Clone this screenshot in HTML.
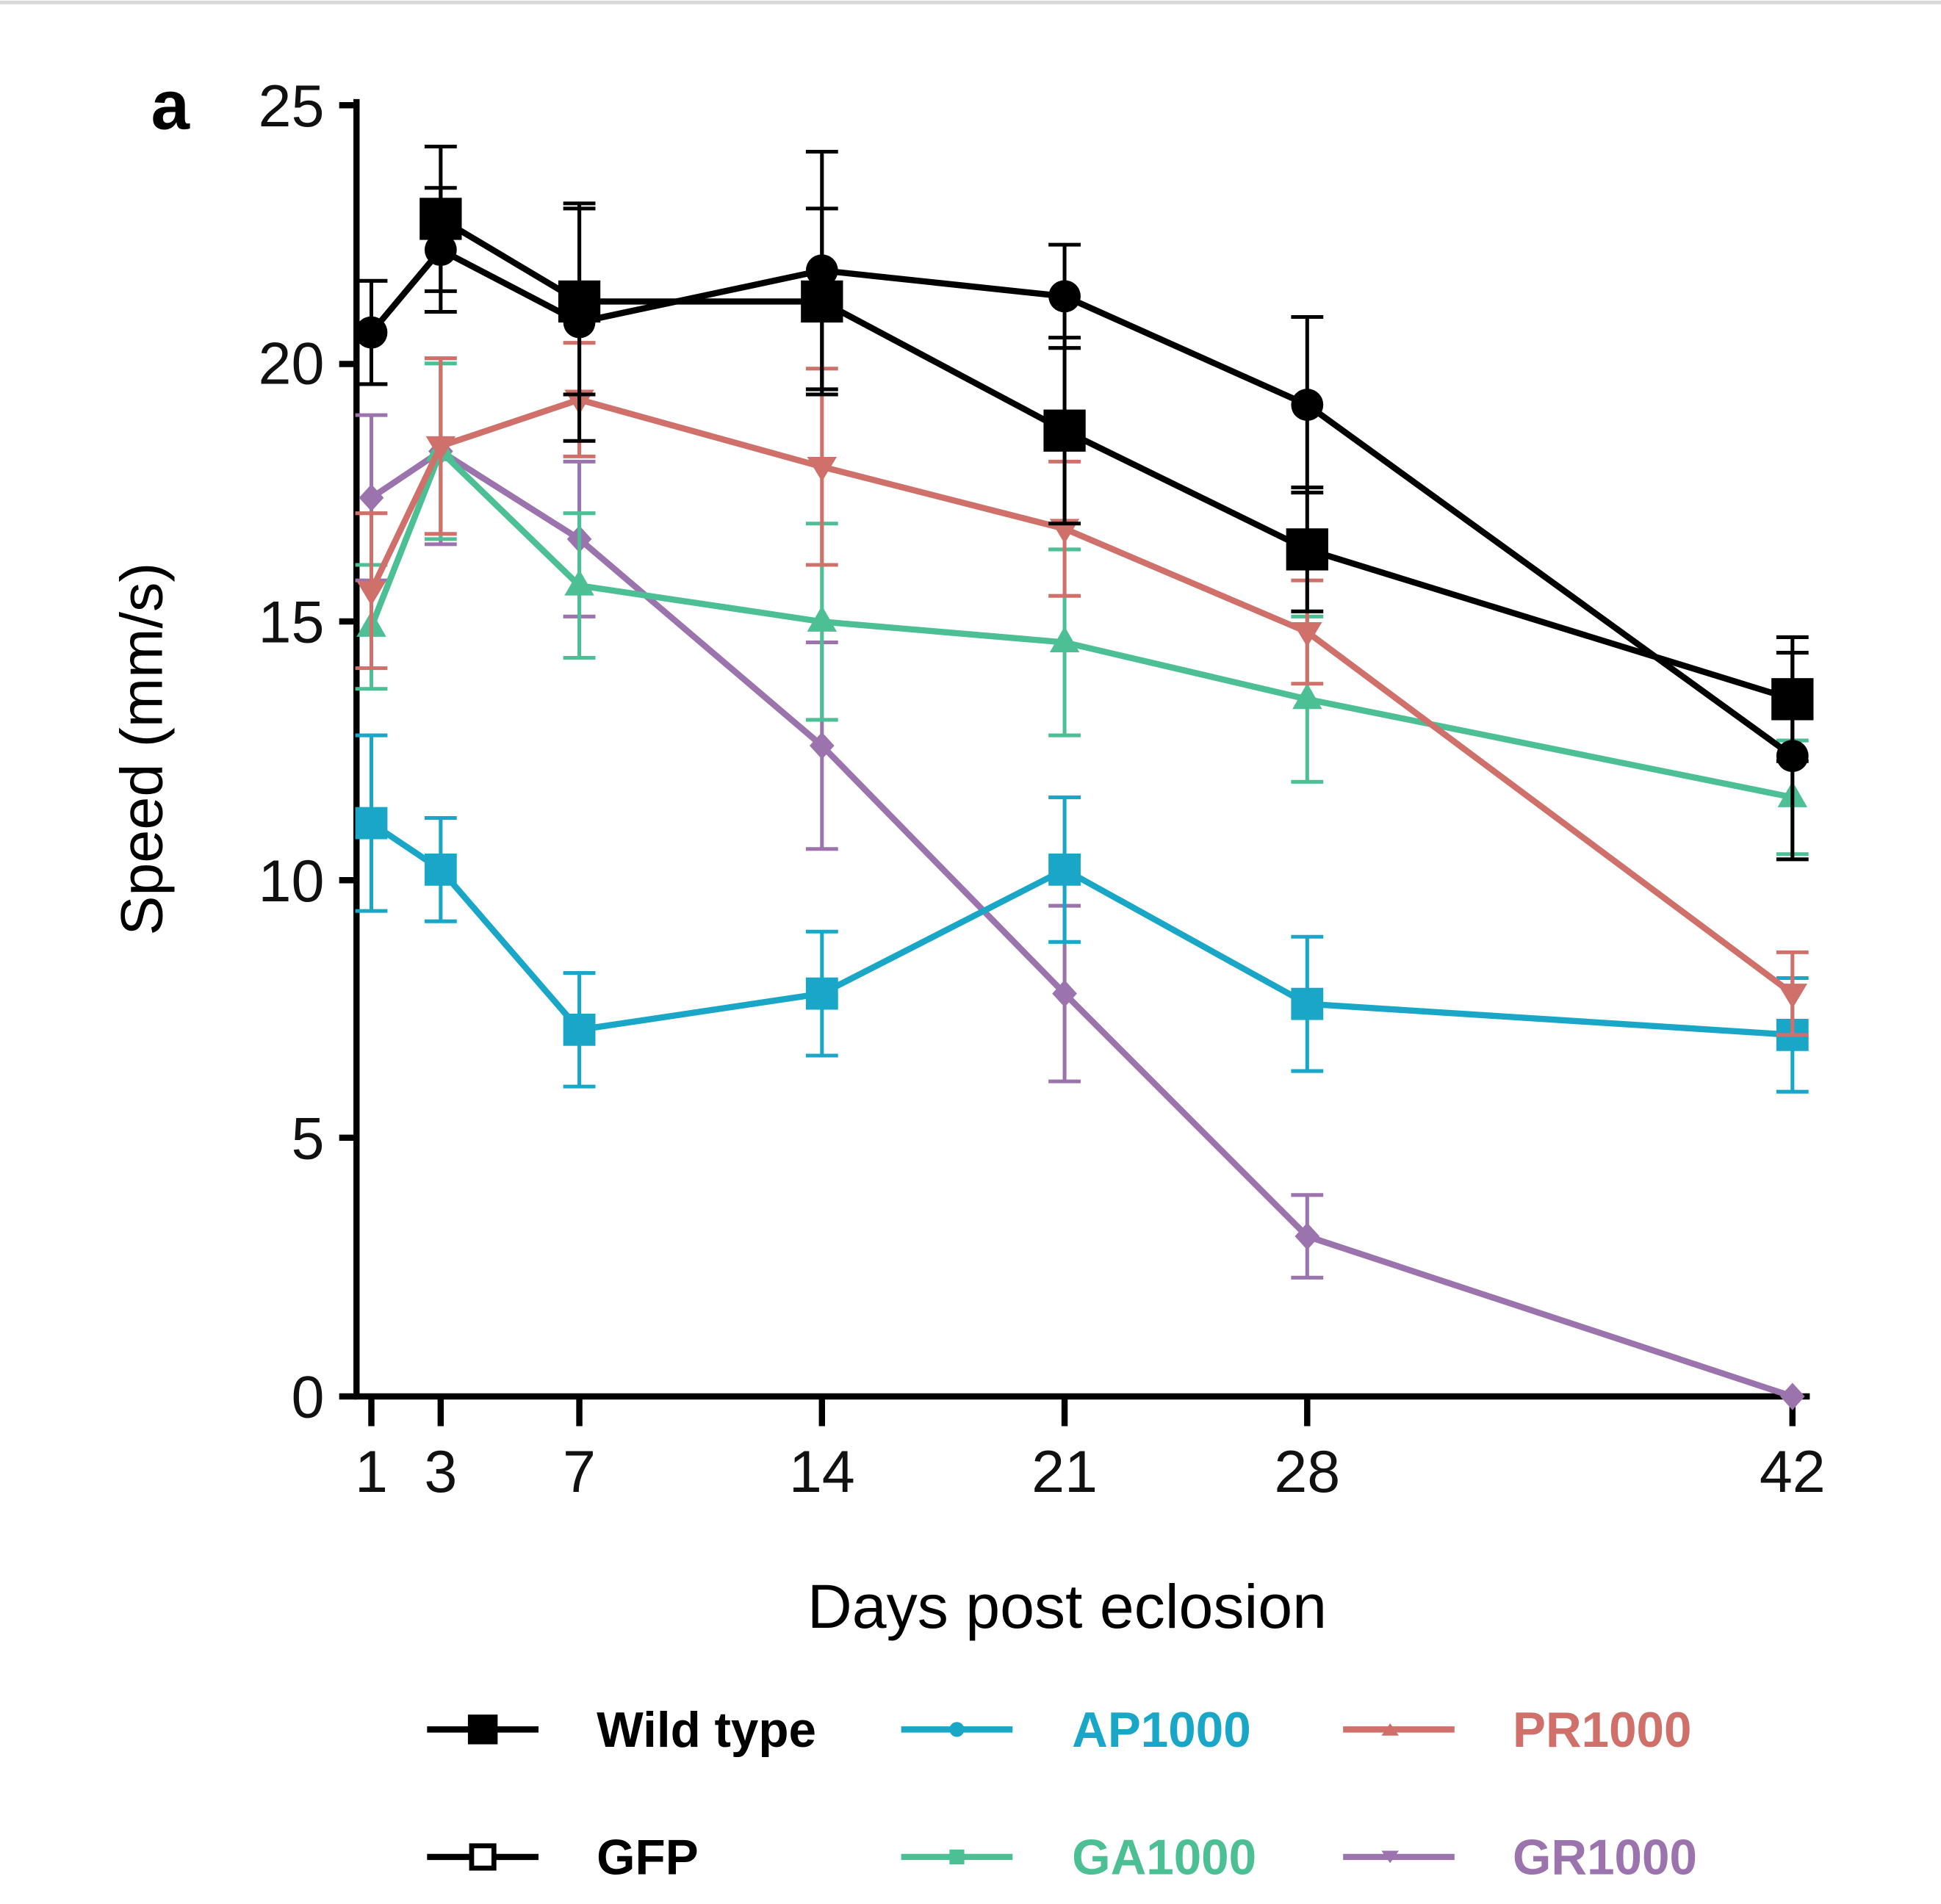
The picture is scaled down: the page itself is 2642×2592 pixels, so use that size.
<!DOCTYPE html>
<html><head><meta charset="utf-8"><style>
html,body{margin:0;padding:0;background:#fff;}
svg{display:block;}
text{font-family:"Liberation Sans",Arial,sans-serif;}
</style></head><body>
<svg id="s" width="2642" height="2592" viewBox="0 0 1568 1538" preserveAspectRatio="none" xmlns="http://www.w3.org/2000/svg">
<rect width="1568" height="1538" fill="#fff"/>
<line x1="0" y1="2" x2="1568" y2="2" stroke="#d8d8d8" stroke-width="3"/>
<text x="122" y="104" style="font-family:'Liberation Sans',sans-serif;font-weight:bold;font-size:56px">a</text>
<g id="axes" stroke="#000" stroke-width="5" fill="none">
<line x1="288" y1="80" x2="288" y2="1130"/>
<line x1="286" y1="1128" x2="1462" y2="1128"/>
<path d="M274,85H288M274,294H288M274,502H288M274,711H288M274,919H288M274,1128H288"/>
<path d="M300,1128V1152M356,1128V1152M468,1128V1152M664,1128V1152M860,1128V1152M1056,1128V1152M1448,1128V1152"/>
</g>
<g font-size="48" text-anchor="end" fill="#111">
<text x="262" y="102">25</text><text x="262" y="310">20</text><text x="262" y="519">15</text>
<text x="262" y="728">10</text><text x="262" y="936">5</text><text x="262" y="1145">0</text>
</g>
<g font-size="48" text-anchor="middle" fill="#111">
<text x="300" y="1205">1</text><text x="356" y="1205">3</text><text x="468" y="1205">7</text>
<text x="664" y="1205">14</text><text x="860" y="1205">21</text><text x="1056" y="1205">28</text><text x="1448" y="1205">42</text>
</g>
<text font-size="48" text-anchor="middle" transform="translate(131,605) rotate(-90)">Speed (mm/s)</text>
<text x="862" y="1315" font-size="50" text-anchor="middle">Days post eclosion</text>
<g id="plot"></g>
<g font-size="40" font-weight="bold">
<line x1="345" y1="1397" x2="435" y2="1397" stroke="#000" stroke-width="5"/><rect x="378" y="1385" width="24" height="24" fill="#000"/>
<text x="482" y="1411">Wild type</text>
<line x1="728" y1="1397" x2="818" y2="1397" stroke="#1aa7c7" stroke-width="5"/><circle cx="773" cy="1397" r="6" fill="#1aa7c7"/>
<text x="866" y="1411" fill="#1aa7c7">AP1000</text>
<line x1="1085" y1="1397" x2="1175" y2="1397" stroke="#d0706a" stroke-width="5"/><path d="M1123,1392 l7,10 l-14,0z" fill="#d0706a"/>
<text x="1222" y="1411" fill="#d0706a">PR1000</text>
<line x1="345" y1="1500" x2="435" y2="1500" stroke="#000" stroke-width="5"/><rect x="381" y="1491" width="18" height="18" fill="#fff" stroke="#000" stroke-width="4"/>
<text x="482" y="1514">GFP</text>
<line x1="728" y1="1500" x2="818" y2="1500" stroke="#4cbf95" stroke-width="5"/><rect x="767" y="1494" width="12" height="12" fill="#4cbf95"/>
<text x="866" y="1514" fill="#4cbf95">GA1000</text>
<line x1="1085" y1="1500" x2="1175" y2="1500" stroke="#9b73ad" stroke-width="5"/><path d="M1123,1505 l7,-10 l-14,0z" fill="#9b73ad"/>
<text x="1222" y="1514" fill="#9b73ad">GR1000</text>
</g>
</svg>
<script>
const X=d=>272+28*d, Y=v=>1128-41.72*v;
const S=[
{c:"#9b73ad",m:"dia",d:[1,3,7,14,21,28,42],v:[17.4,18.3,16.6,12.6,7.8,3.1,0],e:[1.6,1.8,1.5,2.0,1.7,0.8,0]},
{c:"#1aa7c7",m:"sq",r:13,d:[1,3,7,14,21,28,42],v:[11.1,10.2,7.1,7.8,10.2,7.6,7.0],e:[1.7,1.0,1.1,1.2,1.4,1.3,1.1]},
{c:"#4cbf95",m:"tri",d:[1,3,7,14,21,28,42],v:[14.9,18.3,15.7,15.0,14.6,13.5,11.6],e:[1.2,1.7,1.4,1.9,1.8,1.6,1.1]},
{c:"#d0706a",m:"dtri",d:[1,3,7,14,21,28,42],v:[15.6,18.4,19.3,18.0,16.8,14.8,7.8],e:[1.5,1.7,1.1,1.9,1.3,1.0,0.8]},
{c:"#000",m:"sq",r:17,d:[3,7,14,21,28,42],v:[22.8,21.2,21.2,18.7,16.4,13.5],e:[1.4,1.8,1.8,1.8,1.2,1.2]},
{c:"#000",m:"ci",d:[1,3,7,14,21,28,42],v:[20.6,22.2,20.8,21.8,21.3,19.2,12.4],e:[1.0,1.2,2.3,2.3,1.0,1.7,2.0]}
];
let h="";
for(const s of S){
 const days=s.d;
 let pts=days.map((d,i)=>X(d)+","+Y(s.v[i])).join(" ");
 days.forEach((d,i)=>{const x=X(d),y1=Y(s.v[i]+s.e[i]),y2=Y(Math.max(0,s.v[i]-s.e[i]));
  if(s.e[i]>0)h+=`<g stroke="${s.c}" stroke-width="3"><line x1="${x}" y1="${y1}" x2="${x}" y2="${y2}"/><line x1="${x-13}" y1="${y1}" x2="${x+13}" y2="${y1}"/><line x1="${x-13}" y1="${y2}" x2="${x+13}" y2="${y2}"/></g>`;});
 h+=`<polyline points="${pts}" fill="none" stroke="${s.c}" stroke-width="5"/>`;
 days.forEach((d,i)=>{const x=X(d),y=Y(s.v[i]);
  if(s.m=="sq"){const r=s.r;h+=`<rect x="${x-r}" y="${y-r}" width="${2*r}" height="${2*r}" fill="${s.c}"/>`;}
  else if(s.m=="ci")h+=`<circle cx="${x}" cy="${y}" r="13" fill="${s.c}"/>`;
  else if(s.m=="tri")h+=`<path d="M${x},${y-13} l12,21 l-24,0z" fill="${s.c}"/>`;
  else if(s.m=="dtri")h+=`<path d="M${x},${y+12} l12,-20 l-24,0z" fill="${s.c}"/>`;
  else h+=`<path d="M${x},${y-11} l10,11 l-10,11 l-10,-11z" fill="${s.c}"/>`;});
}
document.getElementById("plot").innerHTML=h;
</script>
</body></html>
